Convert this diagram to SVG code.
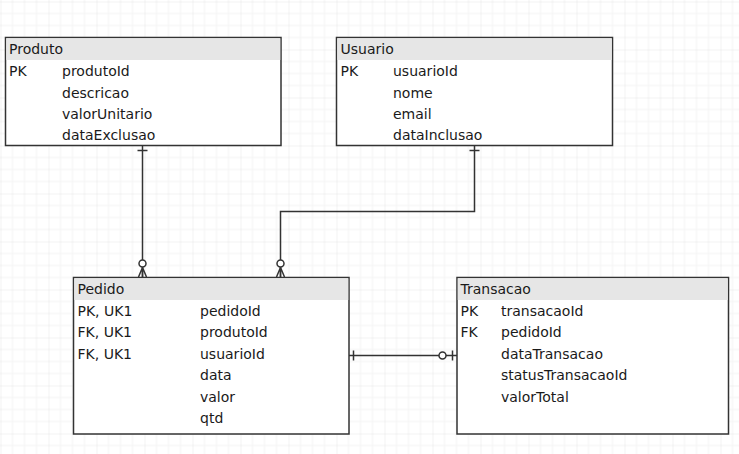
<svg xmlns="http://www.w3.org/2000/svg" width="739" height="454" viewBox="0 0 739 454">
<style>
.box{fill:#ffffff;stroke:#333333;stroke-width:1.5}
.hdr{fill:#e6e6e6;stroke:none}
.t{font-family:"DejaVu Sans",Verdana,sans-serif;font-size:14px;fill:#1a1a1a}
.c{fill:none;stroke:#333333;stroke-width:1.5}
.o{fill:#ffffff;stroke:#333333;stroke-width:1.5}
</style>
<defs>
<pattern id="grid" patternUnits="userSpaceOnUse" x="0.5" y="1.5" width="48" height="48">
<rect width="48" height="48" fill="#ffffff"/>
<path d="M12 0V48M24 0V48M36 0V48M0 12H48M0 24H48M0 36H48" stroke="#f4f4f4" stroke-width="1" fill="none"/>
<path d="M0 0V48M0 0H48" stroke="#e6e6e6" stroke-width="1" fill="none"/>
</pattern>
</defs>
<rect width="739" height="454" fill="url(#grid)"/>

<g id="connectors">
<path class="c" d="M142.5 146V277"/>
<path class="c" d="M137.5 150.5H147.5"/>
<circle class="o" cx="142.5" cy="263.5" r="3.5"/>
<path class="c" d="M142.5 267.5L138.5 277M142.5 267.5V277M142.5 267.5L146.5 277"/>

<path class="c" d="M474.5 146V211.5H280.5V277"/>
<path class="c" d="M469.5 150.5H479.5"/>
<circle class="o" cx="280.5" cy="263.5" r="3.5"/>
<path class="c" d="M280.5 267.5L276.5 277M280.5 267.5V277M280.5 267.5L284.5 277"/>

<path class="c" d="M349 355.5H457"/>
<path class="c" d="M353.5 350.5V360.5"/>
<circle class="o" cx="442.5" cy="355.5" r="3.5"/>
<path class="c" d="M452.5 350.5V360.5"/>
</g>

<g id="produto">
<rect class="box" x="5.5" y="37.5" width="275.5" height="108"/>
<rect class="hdr" x="6.25" y="38.25" width="274" height="21.75"/>
<text class="t" x="9" y="53.5">Produto</text>
<text class="t" x="9" y="76">PK</text>
<text class="t" x="62" y="76">produtoId</text>
<text class="t" x="62" y="97.5">descricao</text>
<text class="t" x="62" y="118.5">valorUnitario</text>
<text class="t" x="62" y="139.5">dataExclusao</text>
</g>

<g id="usuario">
<rect class="box" x="336.5" y="37.5" width="276" height="108"/>
<rect class="hdr" x="337.25" y="38.25" width="274.5" height="21.75"/>
<text class="t" x="340.5" y="53.5">Usuario</text>
<text class="t" x="340.5" y="76">PK</text>
<text class="t" x="393" y="76">usuarioId</text>
<text class="t" x="393" y="97.5">nome</text>
<text class="t" x="393" y="118.5">email</text>
<text class="t" x="393" y="139.5">dataInclusao</text>
</g>

<g id="pedido">
<rect class="box" x="73.5" y="277.5" width="275.5" height="156.5"/>
<rect class="hdr" x="74.25" y="278.25" width="274" height="21.75"/>
<text class="t" x="77.5" y="294">Pedido</text>
<text class="t" x="77.5" y="315.5">PK, UK1</text>
<text class="t" x="77.5" y="337">FK, UK1</text>
<text class="t" x="77.5" y="358.5">FK, UK1</text>
<text class="t" x="200" y="315.5">pedidoId</text>
<text class="t" x="200" y="337">produtoId</text>
<text class="t" x="200" y="358.5">usuarioId</text>
<text class="t" x="200" y="380">data</text>
<text class="t" x="200" y="401.5">valor</text>
<text class="t" x="200" y="423">qtd</text>
</g>

<g id="transacao">
<rect class="box" x="457" y="277.5" width="271.5" height="156.5"/>
<rect class="hdr" x="457.75" y="278.25" width="270" height="21.75"/>
<text class="t" x="460.5" y="294">Transacao</text>
<text class="t" x="460.5" y="315.5">PK</text>
<text class="t" x="460.5" y="337">FK</text>
<text class="t" x="501" y="315.5">transacaoId</text>
<text class="t" x="501" y="337">pedidoId</text>
<text class="t" x="501" y="358.5">dataTransacao</text>
<text class="t" x="501" y="380">statusTransacaoId</text>
<text class="t" x="501" y="401.5">valorTotal</text>
</g>
</svg>
